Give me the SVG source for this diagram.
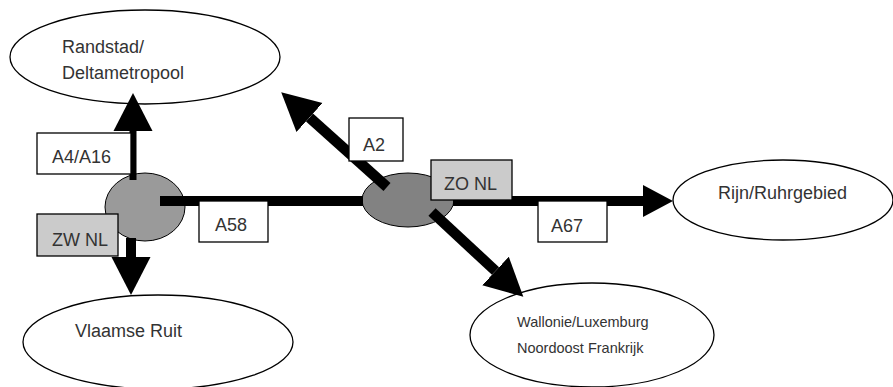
<svg xmlns="http://www.w3.org/2000/svg" width="893" height="387" viewBox="0 0 893 387">
<defs>
<style>
.region{fill:#fff;stroke:#000;stroke-width:1.3}
.hub{stroke:#000;stroke-width:1}
.box{fill:#fff;stroke:#000;stroke-width:1.3}
.gbox{fill:#cbcbcb;stroke:#000;stroke-width:1.3}
.t{font-family:"Liberation Sans",Arial,sans-serif;font-size:18px;fill:#333}
.ts{font-family:"Liberation Sans",Arial,sans-serif;font-size:14.5px;fill:#333}
.road{stroke:#000;fill:none}
</style>
<marker id="head" markerUnits="userSpaceOnUse" viewBox="0 -20 40 40" markerWidth="40" markerHeight="40" refX="0" refY="0" orient="auto">
<path d="M0,-19.5 L38,0 L0,19.5 Z" fill="#000"/>
</marker>
<marker id="headS" markerUnits="userSpaceOnUse" viewBox="0 -20 40 40" markerWidth="40" markerHeight="40" refX="0" refY="0" orient="auto">
<path d="M0,-16 L30,0 L0,16 Z" fill="#000"/>
</marker>
</defs>
<rect width="893" height="387" fill="#fff"/>

<g id="randstad">
<ellipse class="region" cx="145" cy="57" rx="135" ry="47"/>
<text class="t" x="62" y="53">Randstad/</text>
<text class="t" x="62" y="79">Deltametropool</text>
</g>
<g id="vlaamse-ruit">
<ellipse class="region" cx="158" cy="342" rx="135" ry="47"/>
<text class="t" x="75" y="337">Vlaamse Ruit</text>
</g>
<g id="rijn-ruhr">
<ellipse class="region" cx="783" cy="200" rx="110" ry="40"/>
<text class="t" x="718" y="199">Rijn/Ruhrgebied</text>
</g>
<g id="wallonie">
<ellipse class="region" cx="592" cy="335" rx="122" ry="52"/>
<text class="ts" x="517" y="327">Wallonie/Luxemburg</text>
<text class="ts" x="517" y="353">Noordoost Frankrijk</text>
</g>
<g id="zw-nl">
<ellipse class="hub" cx="145" cy="207" rx="40" ry="34" fill="#9a9a9a"/>
</g>
<g id="zo-nl">
<ellipse class="hub" cx="408" cy="200" rx="46" ry="27" fill="#828282"/>
</g>

<g id="connectors">
<line class="road" x1="133" y1="180" x2="133" y2="131" stroke-width="7" marker-end="url(#head)"/>
<line class="road" x1="131" y1="238" x2="131" y2="257" stroke-width="10" marker-end="url(#head)"/>
<line class="road" x1="160" y1="201" x2="363" y2="201" stroke-width="10"/>
<line class="road" x1="453" y1="201" x2="643" y2="201" stroke-width="10" marker-end="url(#headS)"/>
<line class="road" x1="387" y1="187" x2="309.5" y2="117.5" stroke-width="10.5" marker-end="url(#head)"/>
<line class="road" x1="432" y1="212" x2="495.5" y2="271" stroke-width="10.5" marker-end="url(#head)"/>
</g>

<g id="label-zw-nl">
<rect class="gbox" x="37" y="214" width="81" height="42"/>
<text class="t" x="52" y="246">ZW NL</text>
</g>
<g id="label-zo-nl">
<rect class="gbox" x="431" y="160" width="81" height="40"/>
<text class="t" x="444" y="190">ZO NL</text>
</g>
<g id="label-a4a16">
<rect class="box" x="37" y="133" width="94" height="41"/>
<text class="t" x="52" y="163">A4/A16</text>
</g>
<g id="label-a58">
<rect class="box" x="199" y="201" width="69" height="41"/>
<text class="t" x="215" y="231">A58</text>
</g>
<g id="label-a2">
<rect class="box" x="349" y="118" width="54" height="43"/>
<text class="t" x="363" y="151">A2</text>
</g>
<g id="label-a67">
<rect class="box" x="538" y="201" width="69" height="41"/>
<text class="t" x="551" y="232">A67</text>
</g>
</svg>
